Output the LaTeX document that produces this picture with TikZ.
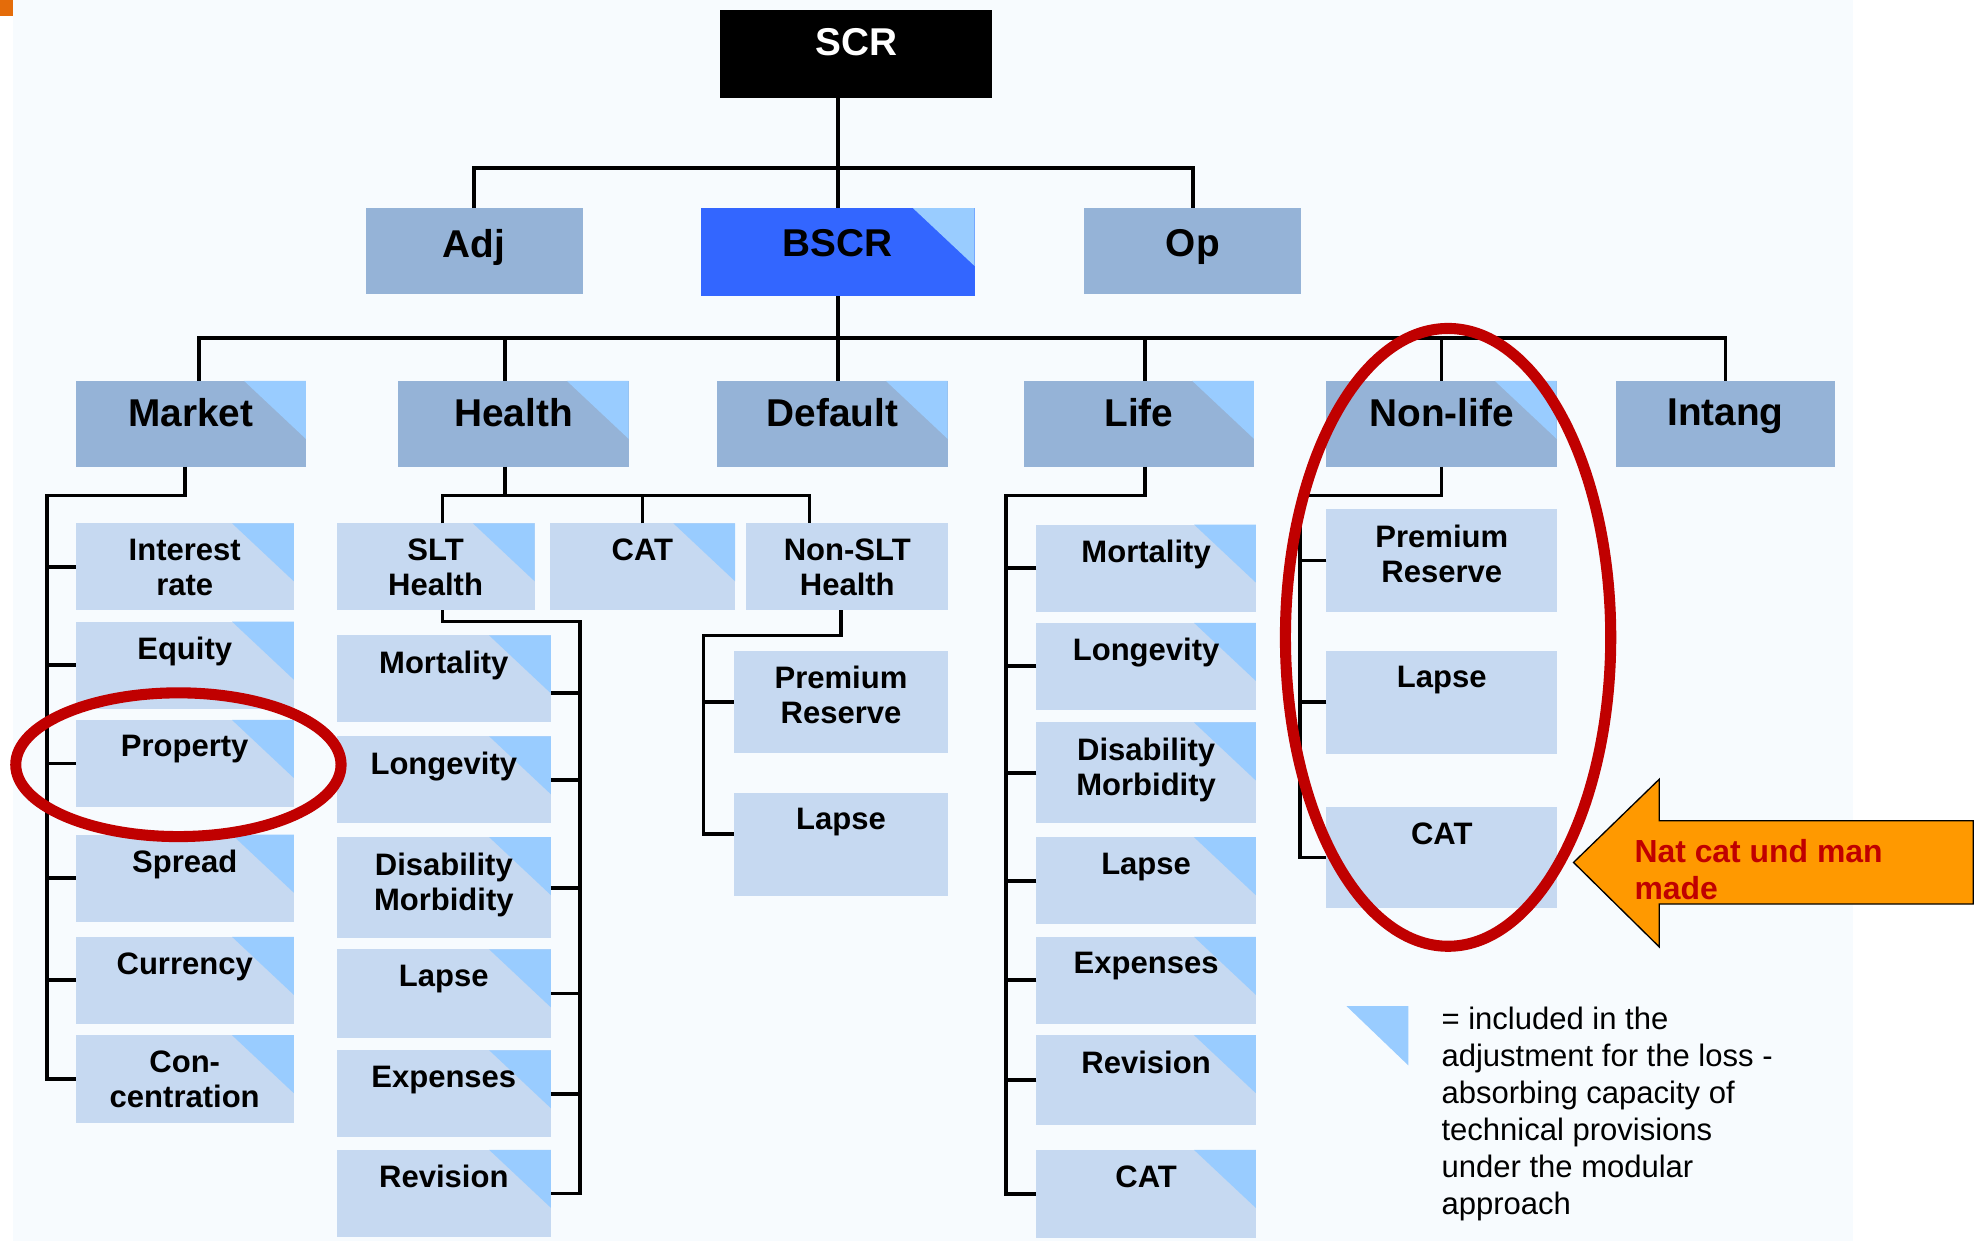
\documentclass[tikz,border=0pt]{standalone}
\usepackage{fontspec}
\setmainfont{Liberation Sans}
\usepackage{xcolor}
\usepackage{tikz}

\definecolor{paper}{HTML}{F7FBFE}
\definecolor{taborange}{HTML}{E46C0A}
\definecolor{mainblue}{HTML}{95B3D7}
\definecolor{subblue}{HTML}{C6D9F1}
\definecolor{cornerblue}{HTML}{99CCFF}
\definecolor{bscrblue}{HTML}{3366FF}
\definecolor{ringred}{HTML}{C00000}
\definecolor{arroworange}{HTML}{FF9900}

\tikzset{
    conn/.style={line width=1.7pt},
    box/.style={anchor=north west, inner sep=0pt, outer sep=0pt},
    toprow/.style={box, minimum width=34.4mm, minimum height=13.6mm},
    module/.style={box, fill=mainblue, minimum width=36.5mm, minimum height=13.6mm},
    riskbox/.style={box, fill=subblue, minimum height=13.8mm},
    mktcol/.style={riskbox, cornertri, minimum width=34.6mm},
    sltcol/.style={riskbox, cornertri, minimum width=34mm},
    nsltcol/.style={riskbox, minimum width=34mm, minimum height=16.3mm},
    lifecol/.style={riskbox, cornertri, minimum width=34.8mm},
    nlcol/.style={riskbox, minimum width=36.6mm, minimum height=16.2mm},
    cornertri/.style={path picture={
        \fill[cornerblue] ([xshift=-9.8mm]path picture bounding box.north east)
          -- (path picture bounding box.north east)
          -- ([yshift=-9.2mm]path picture bounding box.north east) -- cycle;}},
    headlbl/.style={anchor=north, inner sep=0pt, yshift=-2.8mm,
        font=\fontsize{17.5}{20}\selectfont\bfseries},
    risklbl/.style={anchor=north, inner sep=0pt, yshift=-2.4mm, align=center,
        font=\fontsize{14}{15.9}\selectfont\bfseries},
    ring/.style={draw=ringred, line width=5pt}
}

\begin{document}
\begin{tikzpicture}[x=0.2mm, y=-0.2mm]
    % page and background
    \useasboundingbox (0,0) rectangle (1568,984);
    \fill[white] (0,0) rectangle (1568,984);
    \fill[paper] (10,0) rectangle (1470,984);
    \fill[taborange] (0,0) rectangle (10,13);

    % top of the tree
    \node[toprow, fill=black, minimum width=43.2mm, minimum height=14mm,
        label={[headlbl, yshift=-0.1mm, text=white]north:SCR}] (scr) at (571,8) {};
    \node[toprow, fill=mainblue, label={[headlbl, yshift=-0.5mm]north:Adj}] (adj) at (290,165) {};
    \node[toprow, fill=bscrblue, cornertri, minimum width=43.4mm, minimum height=14mm,
        label={[headlbl, yshift=-0.5mm]north:BSCR}] (bscr) at (556,165) {};
    \node[toprow, fill=mainblue, label={[headlbl, yshift=-0.5mm]north:Op}] (op) at (860,165) {};

    % the six modules
    \node[module, cornertri, label={[headlbl]north:Market}] (market) at (60,302) {};
    \node[module, cornertri, label={[headlbl]north:Health}] (health) at (316,302) {};
    \node[module, cornertri, label={[headlbl]north:Default}] (default) at (569,302) {};
    \node[module, cornertri, label={[headlbl]north:Life}] (life) at (812,302) {};
    \node[module, cornertri, label={[headlbl]north:Non-life}] (nonlife) at (1052,302) {};
    \node[module, minimum width=34.6mm, label={[headlbl]north:Intang}] (intang) at (1282,302) {};

    % market risks
    \node[mktcol, label={[risklbl]north:{Interest\\rate}}] (ir) at (60,415) {};
    \node[mktcol, label={[risklbl]north:Equity}] (eq) at (60,493) {};
    \node[mktcol, label={[risklbl]north:Property}] (prop) at (60,571) {};
    \node[mktcol, label={[risklbl]north:Spread}] (spr) at (60,662) {};
    \node[mktcol, label={[risklbl]north:Currency}] (cur) at (60,743) {};
    \node[mktcol, minimum height=14mm, label={[risklbl]north:{Con-\\centration}}] (conc) at (60,821) {};

    % health risks
    \node[riskbox, cornertri, minimum width=31.4mm, label={[risklbl]north:{SLT\\Health}}] (slt) at (267,415) {};
    \node[riskbox, cornertri, minimum width=29.4mm, label={[risklbl]north:CAT}] (cath) at (436,415) {};
    \node[riskbox, minimum width=32mm, label={[risklbl]north:{Non-SLT\\Health}}] (nslt) at (592,415) {};

    \node[sltcol, label={[risklbl]north:Mortality}] (smort) at (267,504) {};
    \node[sltcol, label={[risklbl]north:Longevity}] (slong) at (267,584) {};
    \node[sltcol, minimum height=16mm, label={[risklbl]north:{Disability\\Morbidity}}] (sdis) at (267,664) {};
    \node[sltcol, minimum height=14mm, label={[risklbl]north:Lapse}] (slap) at (267,753) {};
    \node[sltcol, label={[risklbl]north:Expenses}] (sexp) at (267,833) {};
    \node[sltcol, label={[risklbl]north:Revision}] (srev) at (267,912) {};

    \node[nsltcol, label={[risklbl]north:{Premium\\Reserve}}] (nprem) at (582,516) {};
    \node[nsltcol, label={[risklbl]north:Lapse}] (nlap) at (582,629) {};

    % life risks
    \node[lifecol, label={[risklbl]north:Mortality}] (lmort) at (822,416) {};
    \node[lifecol, label={[risklbl]north:Longevity}] (llong) at (822,494) {};
    \node[lifecol, minimum height=16mm, label={[risklbl]north:{Disability\\Morbidity}}] (ldis) at (822,573) {};
    \node[lifecol, label={[risklbl]north:Lapse}] (llap) at (822,664) {};
    \node[lifecol, label={[risklbl]north:Expenses}] (lexp) at (822,743) {};
    \node[lifecol, minimum height=14.2mm, label={[risklbl]north:Revision}] (lrev) at (822,821) {};
    \node[lifecol, minimum height=14mm, label={[risklbl]north:CAT}] (lcat) at (822,912) {};

    % non-life risks
    \node[nlcol, label={[risklbl]north:{Premium\\Reserve}}] (pprem) at (1052,404) {};
    \node[nlcol, minimum height=16.4mm, label={[risklbl]north:Lapse}] (plap) at (1052,516) {};
    \node[nlcol, minimum height=16mm, label={[risklbl]north:CAT}] (pcat) at (1052,640) {};

    % lines between SCR, Adj, BSCR, Op
    \draw[conn] (bscr.north |- scr.south) -- (bscr.north);
    \draw[conn] (adj.north) -- ++(0,-32) -| (op.north);

    % lines from BSCR to the modules
    \draw[conn] (bscr.south) -- (bscr.south |- default.north);
    \draw[conn] ([xshift=1.3mm]market.north) -- ++(0,-34) -| (intang.north);
    \draw[conn] ([xshift=-1.4mm]health.north) -- ++(0,-34);
    \draw[conn] ([xshift=1mm]life.north) -- ++(0,-34);
    \draw[conn] (nonlife.north) -- ++(0,-34);

    % market rail
    \coordinate (mrail) at (37,393);
    \draw[conn] ([xshift=-0.9mm]market.south) |- (mrail) |- (conc.west);
    \foreach \n in {ir,eq,prop,spr,cur}
        \draw[conn] (\n.west) -- (\n.west -| mrail);

    % health branches
    \draw[conn] ([xshift=-1.4mm]health.south) -- ++(0,23);
    \draw[conn] ([xshift=1.1mm]slt.north) -- ++(0,-22) -| ([xshift=-6mm]nslt.north);
    \draw[conn] (cath.north) -- ++(0,-22);

    \coordinate (srail) at (460,493);
    \draw[conn] ([xshift=1.1mm]slt.south) |- (srail) |- (srev.east);
    \draw[conn] ([yshift=-2.2mm]smort.east) -- ++(23,0);
    \foreach \n in {slong,sdis,slap,sexp}
        \draw[conn] (\n.east) -- (\n.east -| srail);

    \coordinate (nrail) at (558,504);
    \draw[conn] ([xshift=-1mm]nslt.south) |- (nrail) |- ([yshift=1.6mm]nlap.west);
    \draw[conn] (nprem.west) -- (nprem.west -| nrail);

    % life rail
    \coordinate (lrail) at (798,393);
    \draw[conn] ([xshift=1mm]life.south) |- (lrail) |- (lcat.west);
    \foreach \n in {lmort,llong,ldis,llap,lexp,lrev}
        \draw[conn] (\n.west) -- (\n.west -| lrail);

    % non-life rail
    \coordinate (prail) at (1031,393);
    \draw[conn] (nonlife.south) |- (prail) |- (pcat.west);
    \foreach \n in {pprem,plap}
        \draw[conn] (\n.west) -- (\n.west -| prail);

    % red rings
    \draw[ring] (141.5,606.5) ellipse [x radius=25.8mm, y radius=11.4mm];
    \draw[ring] (1148.5,505.5) ellipse [x radius=25.8mm, y radius=49mm];

    % orange arrow with note
    \draw[fill=arroworange, line width=0.6pt] (1248,684) -- (1316,618) -- (1316,651)
        -- (1565,651) -- (1565,717) -- (1316,717) -- (1316,751) -- cycle;
    \node[anchor=north west, inner sep=0pt, align=left, text=ringred,
        font=\fontsize{14.4}{17}\selectfont\bfseries] (note) at (1296,665) {Nat cat und man\\made};

    % legend
    \fill[cornerblue] (1068,798) -- (1117,798) -- (1117,845) -- cycle;
    \node[anchor=north west, inner sep=0pt, align=left,
        font=\fontsize{14}{16.7}\selectfont] (legend) at (1143,798)
        {= included in the\\adjustment for the loss -\\absorbing capacity of\\technical provisions\\under the modular\\approach};
\end{tikzpicture}
\end{document}
